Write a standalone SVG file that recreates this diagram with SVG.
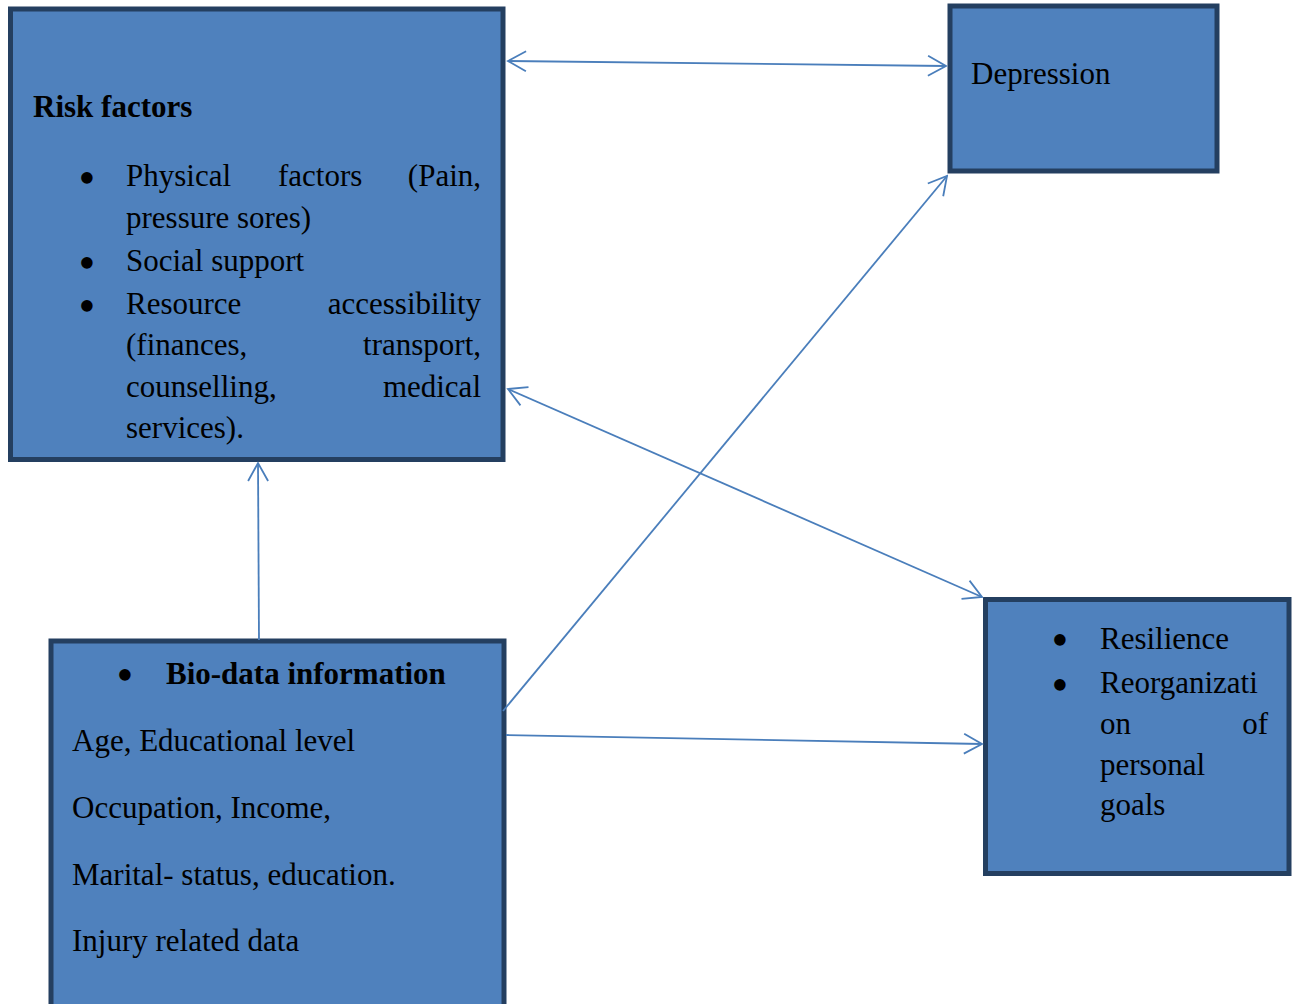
<svg xmlns="http://www.w3.org/2000/svg" width="1299" height="1004" viewBox="0 0 1299 1004">
<style>
.box{fill:#4f81bd;stroke:#243f60;stroke-width:5}
.t{font-family:"Liberation Serif","Times New Roman",serif;font-size:31px;fill:#000}
.u{font-family:"Liberation Serif","Times New Roman",serif;font-size:48px;fill:#000}
.b{font-weight:bold}
.e{text-anchor:end}
.c{fill:none;stroke:#4a7ebb;stroke-width:1.8}
</style>
<defs>
<marker id="ah" viewBox="-20 -12 22 24" markerWidth="22" markerHeight="24" refX="0" refY="0" markerUnits="userSpaceOnUse" orient="auto-start-reverse">
<path d="M-18,-10 L0,0 L-18,10" fill="none" stroke="#4a7ebb" stroke-width="1.8"/>
</marker>
</defs>
<rect width="1299" height="1004" fill="#fff"/>
<g id="risk-factors">
<rect class="box" x="10.5" y="9" width="492.5" height="450.5"/>
<text class="t b" x="33" y="117">Risk factors</text>
<text class="u" x="78.5" y="194">•</text>
<text class="t" x="126" y="186">Physical</text>
<text class="t" x="278" y="186">factors</text>
<text class="t e" x="481" y="186">(Pain,</text>
<text class="t" x="126" y="228">pressure sores)</text>
<text class="u" x="78.5" y="279">•</text>
<text class="t" x="126" y="271">Social support</text>
<text class="u" x="78.5" y="322">•</text>
<text class="t" x="126" y="314">Resource</text>
<text class="t e" x="481" y="314">accessibility</text>
<text class="t" x="126" y="355">(finances,</text>
<text class="t e" x="481" y="355">transport,</text>
<text class="t" x="126" y="397">counselling,</text>
<text class="t e" x="481" y="397">medical</text>
<text class="t" x="126" y="438">services).</text>
</g>
<g id="depression">
<rect class="box" x="950" y="6" width="267" height="165"/>
<text class="t" x="971" y="84">Depression</text>
</g>
<g id="resilience">
<rect class="box" x="985.5" y="599.5" width="303.5" height="274"/>
<text class="u" x="1051.5" y="656">•</text>
<text class="t" x="1100" y="649">Resilience</text>
<text class="u" x="1051.5" y="701">•</text>
<text class="t" x="1100" y="693">Reorganizati</text>
<text class="t" x="1100" y="734">on</text>
<text class="t e" x="1268" y="734">of</text>
<text class="t" x="1100" y="775">personal</text>
<text class="t" x="1100" y="815">goals</text>
</g>
<g id="bio-data">
<rect class="box" x="51" y="641" width="453" height="400"/>
<text class="u" x="116.5" y="691">•</text>
<text class="t b" x="166" y="684">Bio-data information</text>
<text class="t" x="72" y="751">Age, Educational level</text>
<text class="t" x="72" y="818">Occupation, Income,</text>
<text class="t" x="72" y="885">Marital- status, education.</text>
<text class="t" x="72" y="951">Injury related data</text>
</g>
<g id="connectors">
<line class="c" x1="508" y1="61" x2="946" y2="66" marker-start="url(#ah)" marker-end="url(#ah)"/>
<line class="c" x1="508" y1="389" x2="982" y2="597" marker-start="url(#ah)" marker-end="url(#ah)"/>
<line class="c" x1="259" y1="640" x2="258" y2="463" marker-end="url(#ah)"/>
<line class="c" x1="503" y1="711" x2="947" y2="176" marker-end="url(#ah)"/>
<line class="c" x1="506" y1="735" x2="982" y2="744" marker-end="url(#ah)"/>
</g>
</svg>
